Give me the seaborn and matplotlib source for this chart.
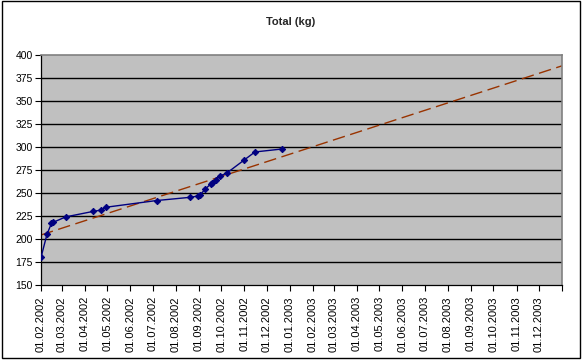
import numpy as np
import pandas as pd
import matplotlib
matplotlib.use("Agg")
import matplotlib.pyplot as plt
import matplotlib.dates as mdates
import seaborn as sns

# ---- data ----
dates = ["2002-02-01", "2002-02-09", "2002-02-15", "2002-02-17", "2002-03-06",
         "2002-04-12", "2002-04-23", "2002-04-29", "2002-07-06", "2002-08-20",
         "2002-08-31", "2002-09-02", "2002-09-09", "2002-09-17", "2002-09-19",
         "2002-09-24", "2002-09-29", "2002-10-08", "2002-10-31", "2002-11-15",
         "2002-12-21"]
totals = [180, 205, 217, 218, 224,
          230, 231.5, 234.5, 241.8, 245.3,
          246.8, 247.5, 254, 260, 261,
          264.5, 268.5, 271.5, 285.5, 294.6,
          297.8]
title = "Total (kg)"
x_start, x_end = "2002-02-01", "2004-01-01"
y_ticks = [150, 175, 200, 225, 250, 275, 300, 325, 350, 375, 400]

df = pd.DataFrame({"date": pd.to_datetime(dates), "total": totals})
df["num"] = mdates.date2num(df["date"])

sns.set_theme(style="white")
plt.rcParams["font.family"] = ["Liberation Sans", "DejaVu Sans"]

fig = plt.figure(figsize=(5.82, 3.6), dpi=100)
ax = fig.add_axes([41/582, 1-285/360, (562-41)/582, (285-55)/360])

x0 = mdates.date2num(pd.Timestamp(x_start))
x1 = mdates.date2num(pd.Timestamp(x_end))
ax.set_xlim(x0, x1)
ax.set_ylim(150, 400)
ax.set_facecolor("#C0C0C0")

for yv in y_ticks[1:-1]:
    ax.axhline(yv, color="black", lw=1.0, zorder=1)

# linear trend line extended over axis
coef = np.polyfit(df["num"], df["total"], 1)
xs = np.array([x0, x1])
ax.plot(xs, np.polyval(coef, xs), color="#993300", lw=1.0,
        dashes=(9, 4), zorder=2)

sns.lineplot(data=df, x="num", y="total", ax=ax, color="#000080",
             marker="D", markersize=3.2, markeredgecolor="#000080",
             lw=1.0, zorder=3)

ax.set_xlabel("")
ax.set_ylabel("")
months = pd.date_range(x_start, x_end, freq="MS")
ax.set_xticks(mdates.date2num(months))
ax.set_xticklabels([m.strftime("%d.%m.%Y") if i < len(months) - 1 else ""
                    for i, m in enumerate(months)], rotation=90, fontsize=8,
                   color="black")
ax.set_yticks(y_ticks)
ax.set_yticklabels([str(v) for v in y_ticks], fontsize=7.5, color="black")
ax.tick_params(axis="x", direction="out", length=4, width=0.8,
               color="black", bottom=True, pad=4)
ax.tick_params(axis="y", direction="out", length=4, width=0.8,
               color="black", left=True, pad=2)

for s in ["top", "right"]:
    ax.spines[s].set_color("#808080")
    ax.spines[s].set_linewidth(1.2)
for s in ["left", "bottom"]:
    ax.spines[s].set_color("black")
    ax.spines[s].set_linewidth(0.9)

fig.text(0.5, 1-22/360, title, ha="center", va="center",
         fontsize=8, fontweight="bold")

# outer chart border
fig.patches.append(plt.Rectangle((2/582, 1-358/360), 578/582, 357/360,
                                 transform=fig.transFigure, fill=False,
                                 edgecolor="black", lw=1.0))

fig.savefig("out.png", dpi=100)
